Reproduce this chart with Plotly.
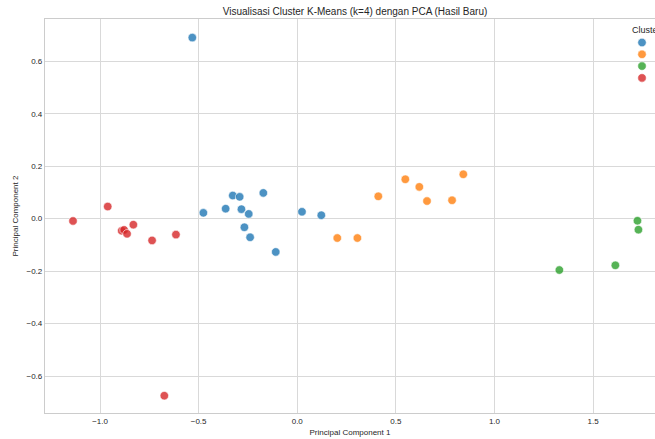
import plotly.graph_objects as go

clusters = ["0", "1", "2", "3"]
colors = ["rgba(31,119,180,0.8)", "rgba(255,127,14,0.8)", "rgba(44,160,44,0.8)", "rgba(214,39,40,0.8)"]

pc1_c0 = [-0.532, -0.476, -0.363, -0.327, -0.292, -0.283, -0.246, -0.172, -0.268, -0.239, -0.109, 0.024, 0.122]
pc2_c0 = [0.690, 0.022, 0.038, 0.088, 0.083, 0.036, 0.018, 0.098, -0.033, -0.071, -0.127, 0.026, 0.013]

pc1_c1 = [0.203, 0.305, 0.411, 0.548, 0.619, 0.658, 0.785, 0.842]
pc2_c1 = [-0.074, -0.074, 0.085, 0.150, 0.121, 0.067, 0.070, 0.169]

pc1_c2 = [1.329, 1.613, 1.725, 1.730]
pc2_c2 = [-0.196, -0.178, -0.008, -0.042]

pc1_c3 = [-1.137, -0.961, -0.831, -0.890, -0.878, -0.863, -0.736, -0.615, -0.674]
pc2_c3 = [-0.009, 0.046, -0.023, -0.046, -0.043, -0.058, -0.083, -0.061, -0.675]

xs = [pc1_c0, pc1_c1, pc1_c2, pc1_c3]
ys = [pc2_c0, pc2_c1, pc2_c2, pc2_c3]

FONT = "Liberation Sans, Arial, sans-serif"
PLOT_L, PLOT_T, PLOT_W, PLOT_H = 45, 19, 610, 394
legend_ids = ["legend", "legend2", "legend3", "legend4"]
legend_px_y = [42.5, 54.3, 66.1, 77.9]

fig = go.Figure()
for name, col, x, y, lg in zip(clusters, colors, xs, ys, legend_ids):
    fig.add_trace(go.Scatter(
        x=x, y=y, mode="markers", name=name, legend=lg,
        marker=dict(size=8.5, color=col, line=dict(color="white", width=0.6)),
    ))

legends = {}
for lg, py in zip(legend_ids, legend_px_y):
    legends[lg] = dict(x=(622 - PLOT_L) / PLOT_W, xanchor="left",
                       y=1 - (py - PLOT_T) / PLOT_H, yanchor="middle",
                       bgcolor="rgba(0,0,0,0)", borderwidth=0, font=dict(size=8),
                       itemwidth=30)

fig.update_layout(
    width=655, height=439,
    margin=dict(l=PLOT_L, r=0, t=PLOT_T, b=26, autoexpand=False),
    paper_bgcolor="white", plot_bgcolor="white",
    font=dict(family=FONT, size=8, color="#262626"),
    title=dict(text="Visualisasi Cluster K-Means (k=4) dengan PCA (Hasil Baru)",
               x=355/655, xanchor="center", y=1 - 11/439, yanchor="middle",
               font=dict(size=10, color="#262626")),
    showlegend=True,
    **legends,
)
# white legend frame background (hides gridlines behind the legend)
fig.add_shape(type="rect", xref="paper", yref="paper", layer="between",
              x0=(627 - PLOT_L) / PLOT_W, x1=1.05,
              y0=1 - (87 - PLOT_T) / PLOT_H, y1=1 - (22 - PLOT_T) / PLOT_H,
              fillcolor="white", line=dict(width=0))
fig.add_annotation(text="Cluster", xref="paper", yref="paper",
                   x=(630 - PLOT_L) / PLOT_W, xanchor="left",
                   y=1 - (30.5 - PLOT_T) / PLOT_H, yanchor="middle",
                   showarrow=False, font=dict(size=9, color="#262626"))
fig.update_xaxes(range=[-1.279, 1.814], dtick=0.5, tick0=0, tickformat=".1f",
                 showgrid=True, gridcolor="#d9d9d9", gridwidth=1,
                 zeroline=False, showline=True, linecolor="#cccccc", linewidth=1.2, mirror=True,
                 ticks="", title=dict(text="Principal Component 1", standoff=4, font=dict(size=8)))
fig.update_yaxes(range=[-0.741, 0.761], dtick=0.2, tick0=0, tickformat=".1f",
                 showgrid=True, gridcolor="#d9d9d9", gridwidth=1,
                 zeroline=False, showline=True, linecolor="#cccccc", linewidth=1.2, mirror=False,
                 ticks="", title=dict(text="Principal Component 2", standoff=6, font=dict(size=8)))

fig.write_html("out.html")
